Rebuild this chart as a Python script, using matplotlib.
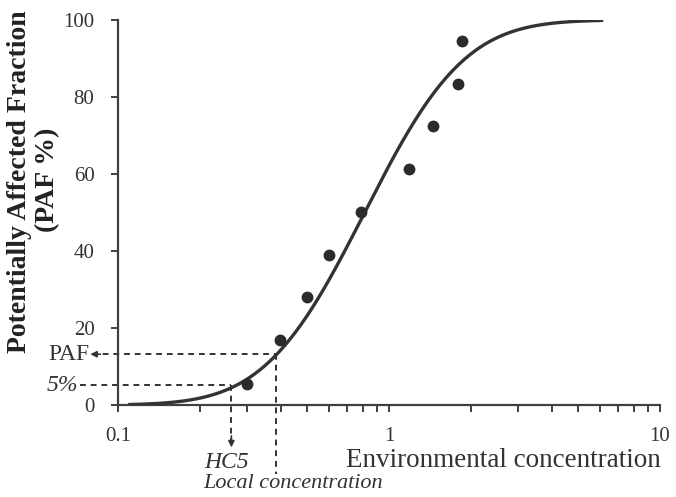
import math

import matplotlib
matplotlib.use("Agg")
import matplotlib.pyplot as plt
import numpy as np

plt.rcParams['font.family'] = ['Liberation Serif', 'DejaVu Serif']

# ── Data ──────────────────────────────────────────────────────────────────────
conc_obs = [0.30, 0.397, 0.497, 0.598, 0.791, 1.188, 1.448, 1.79, 1.866]
paf_obs  = [5.4, 17.0, 28.1, 39.0, 50.2, 61.3, 72.5, 83.4, 94.6]

# fitted log-normal SSD curve (log10 mean / sd)
fit_mu    = -0.09
fit_sigma = 0.29
curve_lo, curve_hi = 0.11, 6.1

hc5_conc   = 0.262
hc5_level  = 5.2
local_conc = 0.384
local_paf  = 13.2

x_ticks = [0.1, 1, 10]
y_ticks = [0, 20, 40, 60, 80, 100]

INK = "#333333"

# ── Plot ──────────────────────────────────────────────────────────────────────
fig = plt.figure(figsize=(6.76, 4.97), dpi=100)
ax = fig.add_axes([0.1746, 0.185, 0.8018, 0.7748])

xc = np.logspace(np.log10(curve_lo), np.log10(curve_hi), 300)
z = (np.log10(xc) - fit_mu) / (fit_sigma * math.sqrt(2))
yc = 50 * (1 + np.array([math.erf(v) for v in z]))
ax.plot(xc, yc, color=INK, lw=2.4, solid_capstyle="round", zorder=3)
ax.plot(conc_obs, paf_obs, "o", color="#2b2b2b", ms=7.5, zorder=4)

ax.set_xscale("log")
ax.set_xlim(0.1, 10)
ax.set_ylim(0, 100)
ax.set_xticks(x_ticks)
ax.set_xticklabels(["0.1", "1", "10"])
ax.set_yticks(y_ticks)

for s in ["top", "right"]:
    ax.spines[s].set_visible(False)
for s in ["left", "bottom"]:
    ax.spines[s].set_color("#404040")
    ax.spines[s].set_linewidth(1.6)
ax.tick_params(axis="both", which="major", length=5, width=1.4,
               color="#404040", labelsize=15, labelcolor="#333333")
ax.tick_params(axis="x", which="minor", length=5, width=1.4, color="#404040")
ax.tick_params(axis="x", pad=11)
ax.tick_params(axis="y", pad=12)
ax.xaxis.set_minor_formatter(matplotlib.ticker.NullFormatter())

# dashed guide lines
dash = dict(color=INK, lw=1.4, ls=(0, (3, 2.5)), clip_on=False, zorder=2)
ax.plot([0.08, local_conc], [local_paf, local_paf], **dash)
ax.plot([local_conc, local_conc], [local_paf, -18], **dash)
ax.plot([0.0725, hc5_conc], [hc5_level, hc5_level], **dash)
ax.plot([hc5_conc, hc5_conc], [hc5_level, -9], **dash)

ax.annotate("", xy=(0.0790, local_paf), xytext=(0.086, local_paf),
            arrowprops=dict(arrowstyle="-|>", color=INK, lw=1.2,
                            mutation_scale=9, shrinkA=0, shrinkB=0),
            annotation_clip=False)
ax.annotate("", xy=(hc5_conc, -11), xytext=(hc5_conc, -8),
            arrowprops=dict(arrowstyle="-|>", color=INK, lw=1.2,
                            mutation_scale=9, shrinkA=0, shrinkB=0),
            annotation_clip=False)

ax.text(0.0785, local_paf, "PAF", ha="right", va="center", fontsize=17, color=INK)
ax.text(0.0715, hc5_level, "5%", ha="right", va="center", fontsize=17,
        style="italic", color=INK)
ax.text(0.208, -15.0, "HC5", ha="left", va="center", fontsize=17,
        style="italic", color=INK)
ax.text(0.206, -20.5, "Local concentration", ha="left", va="center",
        fontsize=16, style="italic", color=INK)
ax.text(10.1, -14.4, "Environmental concentration", ha="right", va="center",
        fontsize=19.5, color=INK)

fig.text(20 / 676, 1 - 182 / 497, "Potentially Affected Fraction", rotation=90,
         ha="center", va="center", fontsize=20, fontweight="bold", color="#222222")
fig.text(48 / 676, 1 - 180 / 497, "(PAF %)", rotation=90,
         ha="center", va="center", fontsize=20, fontweight="bold", color="#222222")

fig.savefig("out.png", dpi=100)
